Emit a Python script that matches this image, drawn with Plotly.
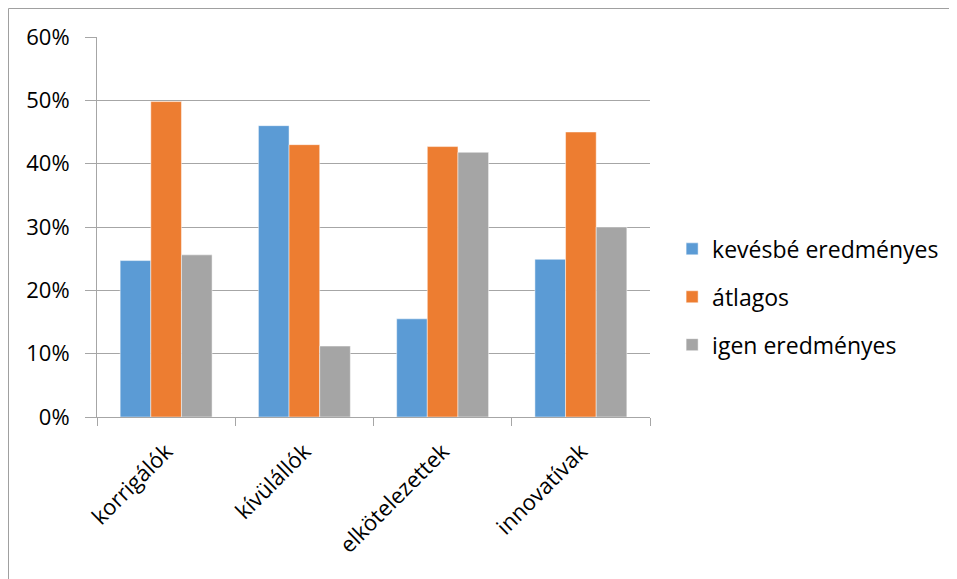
import plotly.graph_objects as go

categories = ["korrigálók", "kívülállók", "elkötelezettek", "innovatívak"]
series_names = ["kevésbé eredményes", "átlagos", "igen eredményes"]
kevesbe = [0.247, 0.460, 0.155, 0.249]
atlagos = [0.498, 0.430, 0.427, 0.450]
igen = [0.256, 0.112, 0.418, 0.300]
y_ticks = [0, 0.1, 0.2, 0.3, 0.4, 0.5, 0.6]
y_tick_labels = ["0%", "10%", "20%", "30%", "40%", "50%", "60%"]

colors = ["#5B9BD5", "#ED7D31", "#A5A5A5"]
FONT = "Open Sans"

fig = go.Figure()
for i, (name, vals) in enumerate(zip(series_names, [kevesbe, atlagos, igen])):
    fig.add_trace(go.Bar(
        x=categories, y=vals, name=name,
        marker=dict(color=colors[i], line=dict(color="rgba(255,255,255,0.6)", width=0.8)),
        legendgroup=f"g{i}",
    ))

# page body has an 8px margin, so figure is offset by 8px in the screenshot
W, H = 949, 571
L, T = 89, 29
R = W - L - 553
B = H - T - 380
pw, ph = W - L - R, H - T - B

def px_to_paper_x(px):
    return (px - L) / pw

def px_to_paper_y(py):
    return (H - B - py) / ph

border_color = "#A0A0A0"
shapes = [
    dict(type="line", xref="paper", yref="paper",
         x0=px_to_paper_x(0.5), x1=px_to_paper_x(0.5),
         y0=px_to_paper_y(0.5), y1=px_to_paper_y(H),
         line=dict(color=border_color, width=1)),
    dict(type="line", xref="paper", yref="paper",
         x0=px_to_paper_x(0.5), x1=px_to_paper_x(W),
         y0=px_to_paper_y(0.5), y1=px_to_paper_y(0.5),
         line=dict(color=border_color, width=1)),
]

fig.update_layout(
    width=W, height=H,
    margin=dict(l=L, r=R, t=T, b=B, autoexpand=False),
    paper_bgcolor="white", plot_bgcolor="white",
    barmode="group", bargap=0.335, bargroupgap=0,
    font=dict(family=FONT, size=22, color="#000000"),
    showlegend=True,
    legend=dict(x=1.04, xanchor="left", y=0.316, yanchor="middle",
                font=dict(family=FONT, size=23, color="#000000"),
                tracegroupgap=15, traceorder="grouped",
                bgcolor="rgba(0,0,0,0)"),
    shapes=shapes,
)
fig.update_xaxes(
    showgrid=False, showline=True, linecolor="#A6A6A6", linewidth=1,
    ticks="outside", tickson="boundaries", ticklen=8, tickcolor="#A6A6A6",
    ticklabelstandoff=12,
    tickangle=-45, tickfont=dict(family=FONT, size=22, color="#000000"),
)
fig.update_yaxes(
    range=[0, 0.6], tickvals=y_ticks, ticktext=y_tick_labels,
    showgrid=True, gridcolor="#A6A6A6", gridwidth=1,
    showline=True, linecolor="#A6A6A6", linewidth=1,
    ticks="outside", ticklen=11, tickcolor="#A6A6A6",
    ticklabelstandoff=11,
    tickfont=dict(family=FONT, size=22, color="#000000"),
    zeroline=False,
)

fig.write_html("out.html")
